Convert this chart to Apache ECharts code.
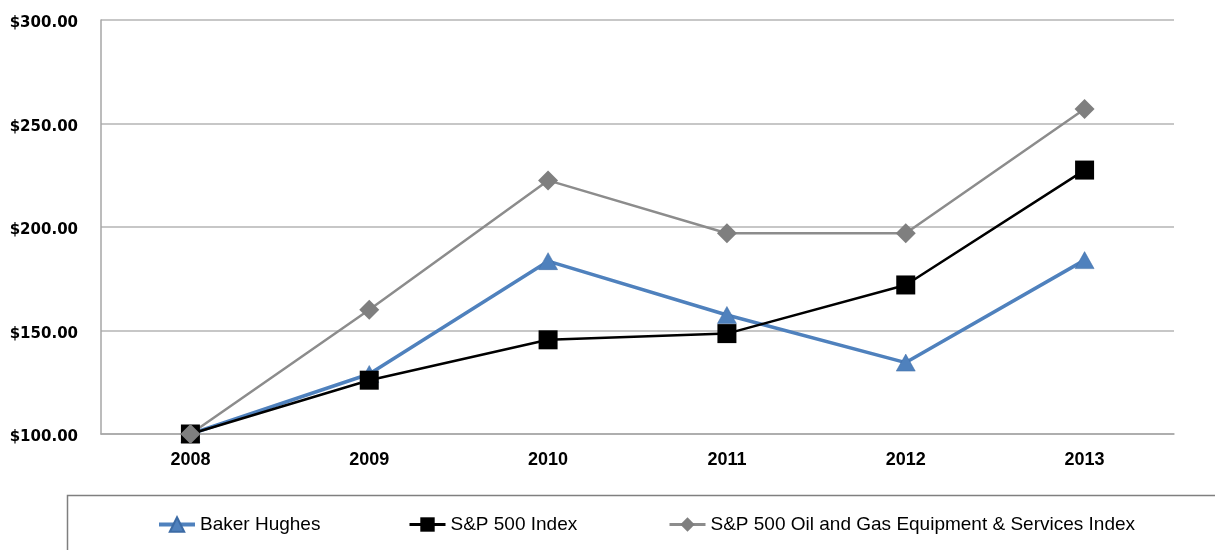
<!DOCTYPE html>
<html>
<head>
<meta charset="utf-8">
<script src="https://cdn.jsdelivr.net/npm/echarts@6/dist/echarts.min.js"></script>
<style>html,body{margin:0;padding:0;background:#fff;}#c{width:1215px;height:550px;}</style>
</head>
<body>
<div id="c"></div>
<script>
const years = ['2008', '2009', '2010', '2011', '2012', '2013'];
const bakerHughes = [100, 129, 183.5, 157.5, 134.5, 184];
const sp500 = [100, 126, 145.5, 148.5, 172, 227.5];
const oilGas = [100, 160, 222.5, 197, 197, 257];
const seriesNames = ['Baker Hughes', 'S&P 500 Index', 'S&P 500 Oil and Gas Equipment & Services Index'];
const lineColors = ['#4F81BD', '#000000', '#8C8C8C'];
const lineWidths = [3.5, 2.5, 2.5];

const chart = echarts.init(document.getElementById('c'), null, {renderer: 'canvas'});
const legendText = {fontFamily: 'Liberation Sans', fontSize: 19, color: '#000'};
function mkLegend(i, left) {
  return {data: [{name: seriesNames[i], lineStyle: {width: lineWidths[i] + 0.5, color: lineColors[i]}}],
    left: left, top: 515, padding: 0, itemWidth: 36, itemHeight: 18,
    itemGap: 0, textStyle: legendText, selectedMode: false};
}
chart.setOption({
  animation: false,
  backgroundColor: '#fff',
  grid: {left: 101, right: 41, top: 20, bottom: 116},
  xAxis: {
    type: 'category', data: years, boundaryGap: true,
    axisLine: {lineStyle: {color: '#A6A6A6', width: 1.5}},
    axisTick: {show: false},
    axisLabel: {fontFamily: 'Liberation Sans', fontWeight: 'bold', fontSize: 18, color: '#000', margin: 17}
  },
  yAxis: {
    type: 'value', min: 100, max: 300, interval: 50,
    axisLine: {show: true, lineStyle: {color: '#A6A6A6', width: 1.5}},
    axisTick: {show: false},
    splitLine: {lineStyle: {color: '#B5B5B5', width: 1.5}},
    axisLabel: {fontFamily: 'DejaVu Sans', fontWeight: 'bold', fontSize: 15, color: '#000', margin: 23,
      formatter: v => '{a|$' + v.toFixed(2) + '}',
      rich: {a: {fontFamily: 'DejaVu Sans', fontWeight: 'bold', fontSize: 15, color: '#000', padding: [7, 0, 0, 0]}}}
  },
  legend: [mkLegend(0, 157), mkLegend(1, 408), mkLegend(2, 668)],
  graphic: [{
    type: 'rect', left: 65, top: 493,
    shape: {x: 0, y: 0, width: 1200, height: 100},
    style: {fill: 'none', stroke: '#7F7F7F', lineWidth: 1.5},
    silent: true
  }],
  series: [
    {name: seriesNames[0], type: 'line', data: bakerHughes, symbol: 'triangle', symbolSize: [19, 17],
      lineStyle: {color: lineColors[0], width: lineWidths[0]}, itemStyle: {color: '#4F81BD', borderColor: '#3C6BA5', borderWidth: 0.5}},
    {name: seriesNames[1], type: 'line', data: sp500, symbol: 'rect', symbolSize: 19,
      lineStyle: {color: lineColors[1], width: lineWidths[1]}, itemStyle: {color: '#000'}},
    {name: seriesNames[2], type: 'line', data: oilGas, symbol: 'diamond', symbolSize: 20,
      lineStyle: {color: lineColors[2], width: lineWidths[2]}, itemStyle: {color: '#7F7F7F'}}
  ]
});
</script>
</body>
</html>
